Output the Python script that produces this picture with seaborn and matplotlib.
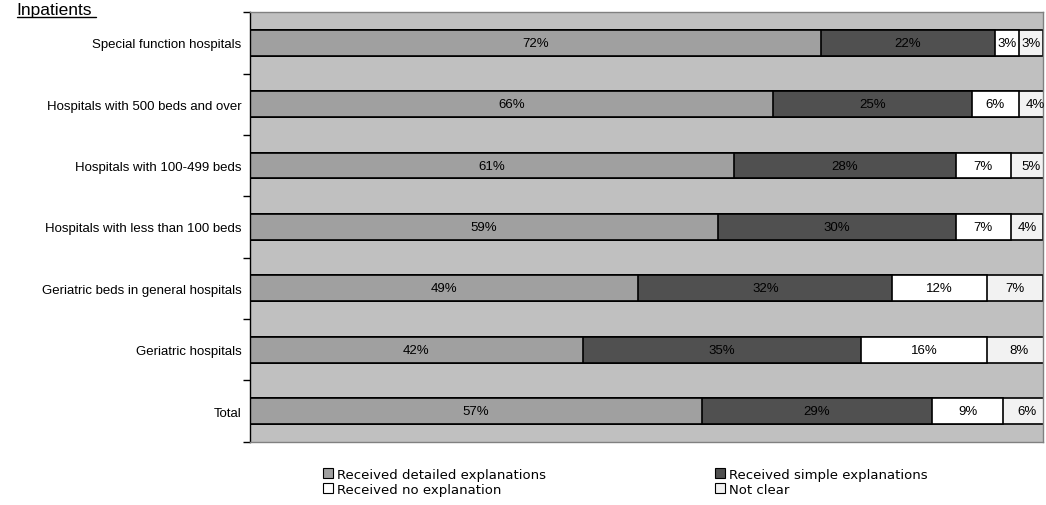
import matplotlib
matplotlib.use("Agg")
import matplotlib.pyplot as plt
import numpy as np
import pandas as pd
import seaborn as sns
from matplotlib.lines import Line2D
from matplotlib.patches import Patch

# Data
kategorier = ["Special function hospitals", "Hospitals with 500 beds and over",
              "Hospitals with 100-499 beds", "Hospitals with less than 100 beds",
              "Geriatric beds in general hospitals", "Geriatric hospitals", "Total"]
detaljerad = [72, 66, 61, 59, 49, 42, 57]
enkel = [22, 25, 28, 30, 32, 35, 29]
ingen = [3, 6, 7, 7, 12, 16, 9]
oklart = [3, 4, 5, 4, 7, 8, 6]

serier = ["Received detailed explanations", "Received simple explanations",
          "Received no explanation", "Not clear"]
farger = ["#A0A0A0", "#505050", "#FFFFFF", "#F2F2F2"]

df = pd.DataFrame({"Kategori": kategorier, serier[0]: detaljerad, serier[1]: enkel,
                   serier[2]: ingen, serier[3]: oklart})
kum = df[serier].cumsum(axis=1)

sns.set_style("white")
plt.rcParams["font.family"] = ["Liberation Sans", "DejaVu Sans"]
plt.rcParams["text.color"] = "black"

fig = plt.figure(figsize=(10.46, 5.06), dpi=100)
ax = fig.add_axes([0.239, 0.125, 0.758, 0.849])
ax.set_facecolor("#C0C0C0")

# stacked bars: draw cumulative sums from the largest down
for i in range(3, -1, -1):
    sns.barplot(x=kum[serier[i]], y=df["Kategori"], color=farger[i], orient="h",
                edgecolor="black", linewidth=1.2, width=0.42, saturation=1, ax=ax)

# labels in the middle of each segment
for i in range(4):
    start = kum[serier[i]] - df[serier[i]]
    for j, v in enumerate(df[serier[i]]):
        ax.text(start[j] + v / 2, j, f"{v}%", ha="center", va="center", fontsize=9.5,
                color="black", clip_on=False)

ax.set_xlim(0, 100)
ax.set_ylim(len(kategorier) - 0.5, -0.5)
ax.set_xlabel("")
ax.set_ylabel("")
ax.set_xticks([])
ax.set_yticks(range(len(kategorier)))
ax.set_yticklabels(kategorier, fontsize=9.5, color="black")
ax.tick_params(axis="y", which="major", left=True, length=0, pad=6)
ax.set_yticks(np.arange(-0.5, len(kategorier), 1), minor=True)
ax.tick_params(axis="y", which="minor", left=True, length=5, width=1,
               direction="out", color="black")

for s in ["top", "right", "bottom"]:
    ax.spines[s].set_color("#808080")
    ax.spines[s].set_linewidth(1)
ax.spines["left"].set_color("black")
ax.spines["left"].set_linewidth(1)

# legend in two columns below (row order: detailed, simple / none, not clear)
ordning = [0, 2, 1, 3]
handles = [Patch(facecolor=farger[i], edgecolor="black", linewidth=0.8) for i in ordning]
fig.legend(handles, [serier[i] for i in ordning], loc="upper left",
           bbox_to_anchor=(0.297, 0.097), ncol=2, frameon=False,
           handlelength=0.8, handleheight=0.8, handletextpad=0.3,
           columnspacing=12.8, labelspacing=0.15, labelcolor="black",
           prop={"family": "DejaVu Sans", "size": 9.5})

# title top-left, underlined
fig.text(0.016, 0.970, "Inpatients", fontsize=12.5, ha="left", va="baseline")
fig.add_artist(Line2D([0.016, 0.092], [0.965, 0.965], color="black", linewidth=1,
                      transform=fig.transFigure))

fig.savefig("out.png", dpi=100)
